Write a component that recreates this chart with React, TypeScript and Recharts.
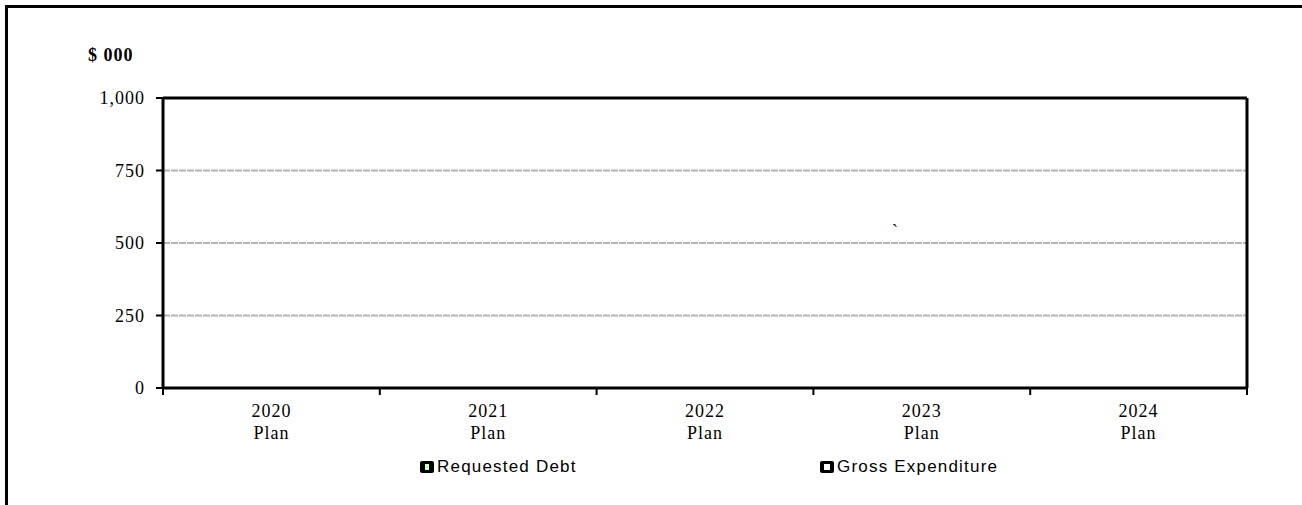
import { BarChart, Bar, XAxis, YAxis, CartesianGrid, ReferenceLine, Legend } from 'recharts'

const years = ['2020', '2021', '2022', '2023', '2024']
const requestedDebt = [0, 0, 0, 0, 0]
const grossExpenditure = [0, 0, 0, 0, 0]
const yTicks = [0, 250, 500, 750, 1000]

const data = years.map((year, i) => ({
  year,
  requestedDebt: requestedDebt[i],
  grossExpenditure: grossExpenditure[i],
}))

const serif = 'Liberation Serif, Times New Roman, serif'
const sans = 'Liberation Sans, Arial, sans-serif'

// category label in two lines, with tick marks on the band edges
function CategoryTick(props: any) {
  const { x, y, payload, index, visibleTicksCount } = props
  const half = payload?.offset ?? 0
  const last = index === visibleTicksCount - 1
  return (
    <g>
      <line x1={x - half} x2={x - half} y1={y} y2={y + 7} stroke="#000" strokeWidth={2} />
      {last && <line x1={x + half} x2={x + half} y1={y} y2={y + 7} stroke="#000" strokeWidth={2} />}
      <text x={x} y={y + 29} textAnchor="middle" fill="#000" fontSize={18} fontFamily={serif} letterSpacing={1}>
        {payload.value}
      </text>
      <text x={x} y={y + 51} textAnchor="middle" fill="#000" fontSize={18} fontFamily={serif} letterSpacing={1}>
        Plan
      </text>
    </g>
  )
}

function LegendIcon({ inner }: { inner: 'debt' | 'gross' }) {
  return (
    <svg width={14} height={12} style={{ display: 'block' }}>
      <rect x={0} y={0} width={14} height={12} rx={2} fill="#000" />
      {inner === 'debt' ? (
        <rect x={5} y={3} width={4} height={6} fill="#ccffcc" />
      ) : (
        <rect x={4} y={3} width={6} height={6} fill="#fff" />
      )}
    </svg>
  )
}

function renderLegend() {
  const items = [
    { label: 'Requested Debt', inner: 'debt' as const },
    { label: 'Gross Expenditure', inner: 'gross' as const },
  ]
  return (
    <div style={{ height: 30, display: 'flex', alignItems: 'center', paddingLeft: 420 }}>
      {items.map((it) => (
        <div key={it.label} style={{ width: 400, display: 'flex', alignItems: 'center', gap: 3 }}>
          <LegendIcon inner={it.inner} />
          <span style={{ fontFamily: sans, fontSize: 17, letterSpacing: 1.2, color: '#000' }}>{it.label}</span>
        </div>
      ))}
    </div>
  )
}

export default function App() {
  return (
    <div style={{ position: 'absolute', left: 0, top: 0, width: 1302, height: 505, background: '#fff', overflow: 'hidden', fontFamily: serif }}>
      <div style={{ position: 'absolute', left: 5, top: 5, width: 1400, height: 600, borderLeft: '3px solid #000', borderTop: '3px solid #000' }} />
      <span style={{ position: 'absolute', left: 88, top: 46, fontFamily: serif, fontWeight: 'bold', fontSize: 18, letterSpacing: 1, lineHeight: '18px' }}>
        $ 000
      </span>
      <span style={{ position: 'absolute', left: 892, top: 222, fontFamily: serif, fontSize: 18, lineHeight: '18px' }}>`</span>
      <div style={{ position: 'absolute', left: 0, top: 0 }}>
        <BarChart width={1302} height={505} data={data} margin={{ top: 98, right: 54, bottom: 23, left: 103 }} barGap={0}>
          <CartesianGrid vertical={false} stroke="#b4b4b4" strokeWidth={2} strokeDasharray="7 1" />
          <XAxis
            dataKey="year"
            axisLine={{ stroke: '#000', strokeWidth: 3 }}
            tickLine={false}
            tickSize={0}
            tickMargin={0}
            height={64}
            interval={0}
            tick={<CategoryTick />}
          />
          <YAxis
            domain={[0, 1000]}
            ticks={yTicks}
            width={60}
            axisLine={{ stroke: '#000', strokeWidth: 3 }}
            tickLine={{ stroke: '#000', strokeWidth: 2 }}
            tickSize={7}
            tickMargin={11}
            tickFormatter={(v: number) => v.toLocaleString('en-US')}
            tick={{ fill: '#000', fontSize: 18, fontFamily: serif, letterSpacing: 1 }}
          />
          <YAxis
            yAxisId="right"
            orientation="right"
            domain={[0, 1000]}
            width={1}
            tick={false}
            tickLine={false}
            axisLine={{ stroke: '#000', strokeWidth: 3 }}
          />
          <ReferenceLine y={1000} stroke="#000" strokeWidth={3} />
          <Bar dataKey="requestedDebt" name="Requested Debt" fill="#ccffcc" stroke="#000" isAnimationActive={false} />
          <Bar dataKey="grossExpenditure" name="Gross Expenditure" fill="#fff" stroke="#000" isAnimationActive={false} />
          <Legend
            verticalAlign="bottom"
            content={renderLegend}
            wrapperStyle={{ left: 0, width: 1302, bottom: 23, height: 30 }}
          />
        </BarChart>
      </div>
    </div>
  )
}
